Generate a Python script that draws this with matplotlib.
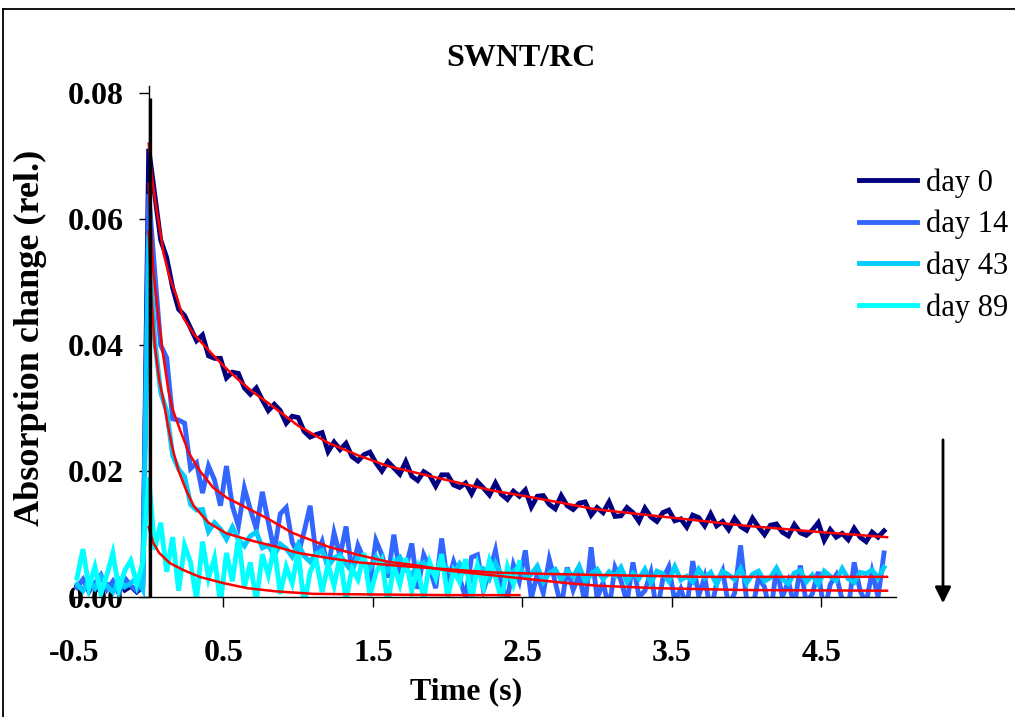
import numpy as np
import matplotlib
matplotlib.use("Agg")
import matplotlib.pyplot as plt
from matplotlib.lines import Line2D

plt.rcParams['font.family'] = ['Liberation Serif', 'DejaVu Serif']

W, H = 1015, 717

# traces: absorption change in units of 1e-4, one sample every 40 ms starting at -0.48 s
t_start = -0.48
t_step = 0.04

day0 = [18, 12, 22, 15, 9, 20, 14, 25, 11, 17, 8, 16,
        712, 639, 567, 539, 491, 457, 447, 427, 407, 416,
        383, 379, 379, 348, 357, 355, 332, 322, 332, 313,
        296, 306, 296, 276, 287, 285, 263, 254, 258, 261,
        231, 246, 234, 244, 223, 216, 226, 230, 213, 200,
        215, 205, 195, 215, 192, 185, 199, 193, 176, 194,
        194, 178, 174, 181, 164, 183, 173, 162, 181, 163,
        155, 168, 160, 170, 143, 160, 161, 147, 140, 161,
        145, 139, 149, 151, 130, 142, 134, 151, 128, 129,
        142, 134, 120, 141, 127, 120, 134, 138, 121, 124,
        111, 130, 126, 113, 132, 113, 120, 107, 125, 112,
        106, 125, 111, 99, 114, 116, 103, 97, 115, 102,
        98, 106, 118, 90, 107, 95, 101, 91, 109, 95,
        88, 103, 95, 105]

day14 = [15, 28, 8, 22, 35, 12, 25, 5, 30, 18, 10, 24,
         640, 517, 400, 380, 283, 281, 276, 204, 213, 165,
         208, 186, 145, 208, 144, 113, 173, 139, 108, 167,
         119, 73, 132, 142, 87, 68, 104, 145, 66, 88,
         45, 102, 65, 112, 40, 82, 60, 22, 90, 67,
         31, 99, 38, 46, 85, 13, 67, 46, 14, 93,
         22, 56, 30, -1, 63, 67, 11, 40, 74, 18,
         -3, 51, 25, 74, -2, 37, 6, 60, 24, -17,
         47, 11, 35, -11, 79, -2, 23, -18, 47, 26,
         -9, 55, 0, 10, 39, -26, 29, 48, -7, 13,
         -17, 57, 2, 32, -23, 22, 42, -14, 6, 82,
         -4, -19, 31, 16, -29, 46, 0, 25, -15, 50,
         -10, 5, 40, -25, 20, 35, -5, -20, 55, 10,
         -10, 40, 0, 70]

day43 = [20, 10, 26, 14, 32, 18, 8, 28, 16, 22, 30, 12,
         575, 408, 325, 295, 225, 203, 191, 147, 138, 139,
         104, 118, 108, 92, 111, 91, 81, 97, 103, 78,
         82, 66, 84, 77, 64, 84, 65, 56, 69, 74,
         49, 62, 67, 52, 41, 65, 57, 45, 64, 50,
         41, 55, 63, 43, 36, 50, 55, 42, 33, 57,
         44, 36, 53, 40, 27, 48, 45, 29, 54, 35,
         30, 41, 49, 31, 36, 49, 24, 38, 44, 27,
         42, 32, 49, 24, 36, 44, 28, 40, 33, 47,
         24, 38, 29, 44, 22, 41, 37, 25, 48, 27,
         33, 24, 44, 30, 39, 20, 41, 35, 28, 45,
         22, 36, 41, 25, 31, 46, 28, 21, 38, 42,
         24, 35, 20, 41, 33, 26, 45, 29, 23, 39,
         37, 43, 30, 47]

day89 = [30, 76, 15, 48, 5, 35, 70, 12, 42, 58, 20, 55,
         190, 75, 118, 40, 95, 10, 82, 55, -5, 88,
         30, 62, -10, 70, 25, 95, 15, 55, -8, 68,
         35, 80, 5, 48, 22, 72, -12, 40, 60, 8,
         52, 18, 65, -6, 45, 28, 70, 2, 38, 58,
         -10, 50, 20, 62, 10, 45, -4, 55, 30, 68,
         0, 42, 24, 60, -8, 50, 15, 58, 32, -5,
         48, 20, 55]

# fitted decays (time in s, value in 1e-4)
fit0_t = [0, 0.02, 0.04, 0.07, 0.10, 0.14, 0.19, 0.23, 0.30, 0.40, 0.50, 0.60, 0.70, 0.80,
          0.90, 1.00, 1.20, 1.40, 1.60, 1.90, 2.10, 2.30, 2.50, 3.00, 3.50, 4.00, 4.50, 4.94]
fit0_v = [720, 672, 634, 590, 545, 507, 475, 444, 418, 392, 367, 345, 325, 308,
          290, 272, 245, 225, 208, 191, 180, 169, 161, 139, 126, 113, 103, 95]
fit14_t = [0, 0.03, 0.06, 0.09, 0.13, 0.16, 0.21, 0.27, 0.34, 0.43, 0.52, 0.66, 0.80, 0.96,
           1.20, 1.40, 1.60, 1.80, 2.00, 2.20, 2.40, 2.60, 2.80, 3.00, 3.40, 4.00, 4.94]
fit14_v = [656, 518, 455, 395, 330, 298, 265, 228, 201, 174, 158, 141, 124, 102,
           80, 67, 56, 50, 42, 37, 32, 27, 22, 18, 14, 11, 10]
fit43_t = [0, 0.02, 0.04, 0.07, 0.10, 0.13, 0.16, 0.20, 0.25, 0.30, 0.40, 0.52, 0.68, 0.85,
           1.00, 1.20, 1.40, 1.70, 2.00, 2.30, 2.60, 3.00, 3.70, 4.94]
fit43_v = [580, 470, 400, 345, 310, 270, 235, 200, 170, 145, 118, 101, 90, 80,
           70, 62, 55, 49, 44, 39, 37, 35, 32, 32]
fit89_t = [0, 0.03, 0.07, 0.14, 0.23, 0.34, 0.50, 0.66, 0.85, 1.10, 1.50, 2.00, 2.48]
fit89_v = [111, 86, 70, 54, 43, 32, 22, 14, 9, 5, 4, 3, 3]

# flash marker
trigger_t = 0.01
trigger_top = 0.0792

labels = ['day 0', 'day 14', 'day 43', 'day 89']
colors = ['#000080', '#3366FF', '#00CCFF', '#00FFFF']
x_ticks = [-0.5, 0.5, 1.5, 2.5, 3.5, 4.5]
y_ticks = [0.00, 0.02, 0.04, 0.06, 0.08]

fig = plt.figure(figsize=(W / 100, H / 100), dpi=100)
ax = fig.add_axes([74 / W, 120 / H, 822 / W, 511.3 / H])

handles = []
for vals, lab, col in zip([day0, day14, day43, day89], labels, colors):
    y = np.array(vals) * 1e-4
    t = t_start + t_step * np.arange(len(y))
    ln, = ax.plot(t, y, color=col, lw=3.5, label=lab, solid_joinstyle='miter')
    handles.append(ln)

for ft, fv in [(fit0_t, fit0_v), (fit14_t, fit14_v), (fit43_t, fit43_v), (fit89_t, fit89_v)]:
    ax.plot(ft, np.array(fv) * 1e-4, color='#FF0000', lw=1.8)

ax.vlines(trigger_t, 0, trigger_top, color='black', lw=2.4, zorder=5)

ax.set_xlim(-0.5, 5.0)
ax.set_ylim(0, 0.0812)
ax.spines['left'].set_position(('data', 0))
ax.spines['top'].set_visible(False)
ax.spines['right'].set_visible(False)
for s in ['left', 'bottom']:
    ax.spines[s].set_linewidth(1.0)
    ax.spines[s].set_zorder(6)

ax.set_xticks(x_ticks)
ax.set_xticklabels([f'{v:.1f}' for v in x_ticks], fontweight='bold', fontsize=23)
ax.set_yticks(y_ticks)
ax.set_yticklabels([f'{v:.2f}' for v in y_ticks], fontweight='bold', fontsize=23)
ax.tick_params(axis='x', direction='out', length=7, width=1, pad=23)
ax.tick_params(axis='y', direction='out', length=7, width=1, pad=11)

fig.text(521 / W, 1 - 58 / H, 'SWNT/RC', ha='center', va='center', fontsize=23, fontweight='bold')
fig.text(466 / W, 1 - 692 / H, 'Time (s)', ha='center', va='center', fontsize=23, fontweight='bold')
fig.text(30 / W, 1 - 338 / H, 'Absorption change (rel.)', ha='center', va='center',
         rotation=90, fontsize=26, fontweight='bold')

ax.legend(handles=handles, loc='upper left', bbox_to_anchor=(859 / W, 1 - 168 / H),
          bbox_transform=fig.transFigure, frameon=False, fontsize=22,
          handlelength=1.9, handletextpad=0.3, labelspacing=0.4,
          borderpad=0, borderaxespad=0)

# downward arrow on the right
ax.annotate('', xy=(943, H - 606), xytext=(943, H - 437), xycoords='figure pixels',
            textcoords='figure pixels', annotation_clip=False,
            arrowprops=dict(arrowstyle='-|>', color='black', lw=2, mutation_scale=24))

# chart border
fig.add_artist(Line2D([3 / W, 3 / W], [0, 1 - 9 / H], transform=fig.transFigure, color='black', lw=1.3))
fig.add_artist(Line2D([3 / W, 1], [1 - 9 / H, 1 - 9 / H], transform=fig.transFigure, color='black', lw=1.3))

fig.savefig('out.png', dpi=100)
